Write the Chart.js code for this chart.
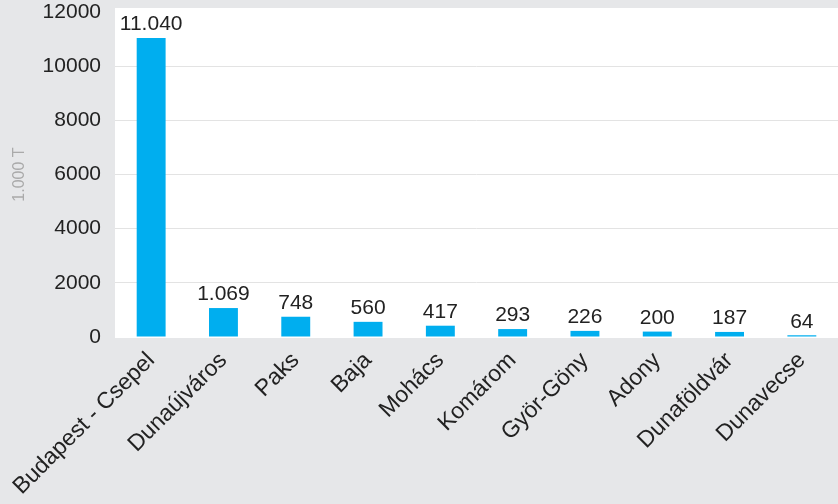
<!DOCTYPE html>
<html>
<head>
<meta charset="utf-8">
<script src="https://cdn.jsdelivr.net/npm/chart.js@4"></script>
<style>
  body { margin: 0; background: #e6e7e9; }
  #wrap { width: 838px; height: 504px; position: relative; }
</style>
</head>
<body>
<div id="wrap"><canvas id="myChart"></canvas></div>
<script>
// ports on the Danube, 1.000 tonnes
var ports = ['Budapest - Csepel', 'Dunaújváros', 'Paks', 'Baja', 'Mohács', 'Komárom', 'Györ-Göny', 'Adony', 'Dunaföldvár', 'Dunavecse'];
var tonnes = [11040, 1069, 748, 560, 417, 293, 226, 200, 187, 64];
var yTicks = [0, 2000, 4000, 6000, 8000, 10000, 12000];

var FONT = '"Liberation Sans", Arial, sans-serif';

// 11040 -> "11.040"
let fmt = (v) => String(v).replace(/\B(?=(\d{3})+(?!\d))/g, '.');

// white plot background, a bit above the 12000 line
var plotBg = {
  id: 'plotBg',
  beforeDraw: (chart) => {
    let a = chart.chartArea, c = chart.ctx;
    c.save();
    c.fillStyle = '#ffffff';
    c.fillRect(a.left, a.top - 4, chart.width - a.left, a.bottom - a.top + 5);
    c.restore();
  }
};

// value labels over the bars
var valueLabels = {
  id: 'valueLabels',
  afterDatasetsDraw: (chart) => {
    let c = chart.ctx;
    let meta = chart.getDatasetMeta(0);
    c.save();
    c.font = '21px ' + FONT;
    c.fillStyle = '#222';
    c.textAlign = 'center';
    c.textBaseline = 'bottom';
    meta.data.forEach((bar, i) => {
      c.fillText(fmt(tonnes[i]), bar.x, bar.y - 3);
    });
    c.restore();
  }
};

var ctx = document.getElementById('myChart');
var myChart = new Chart(ctx, {
  type: 'bar',
  data: {
    labels: ports,
    datasets: [{
      data: tonnes,
      backgroundColor: '#00aeef',
      borderWidth: 0,
      barPercentage: 0.4,
      categoryPercentage: 1
    }]
  },
  options: {
    responsive: true,
    maintainAspectRatio: false,
    animation: false,
    layout: { padding: { top: 12, right: 0, left: 0, bottom: 0 } },
    plugins: {
      legend: { display: false },
      tooltip: { enabled: false }
    },
    scales: {
      x: {
        grid: { display: false, drawTicks: false },
        border: { display: false },
        ticks: {
          color: '#222',
          font: { family: FONT, size: 23 },
          minRotation: 45,
          maxRotation: 45,
          padding: 10,
          autoSkip: false
        },
        afterFit: (s) => { s.height = 167; }
      },
      y: {
        min: 0,
        max: 12000,
        afterBuildTicks: (s) => { s.ticks = yTicks.map((v) => ({ value: v })); },
        grid: {
          drawTicks: false,
          color: (g) => (g.tick.value === 0 || g.tick.value === 12000) ? 'rgba(0,0,0,0)' : '#e3e3e3',
          lineWidth: 1
        },
        border: { display: false },
        ticks: {
          color: '#222',
          font: { family: FONT, size: 21 },
          padding: 14,
          callback: (v) => String(v)
        },
        title: {
          display: true,
          text: '1.000 T',
          color: '#aaaaaa',
          font: { family: FONT, size: 16 },
          padding: { top: 10, bottom: 0 }
        },
        afterFit: (s) => { s.width = 115; s.paddingTop = 0; s.paddingBottom = 0; }
      }
    }
  },
  plugins: [plotBg, valueLabels]
});
</script>
</body>
</html>
